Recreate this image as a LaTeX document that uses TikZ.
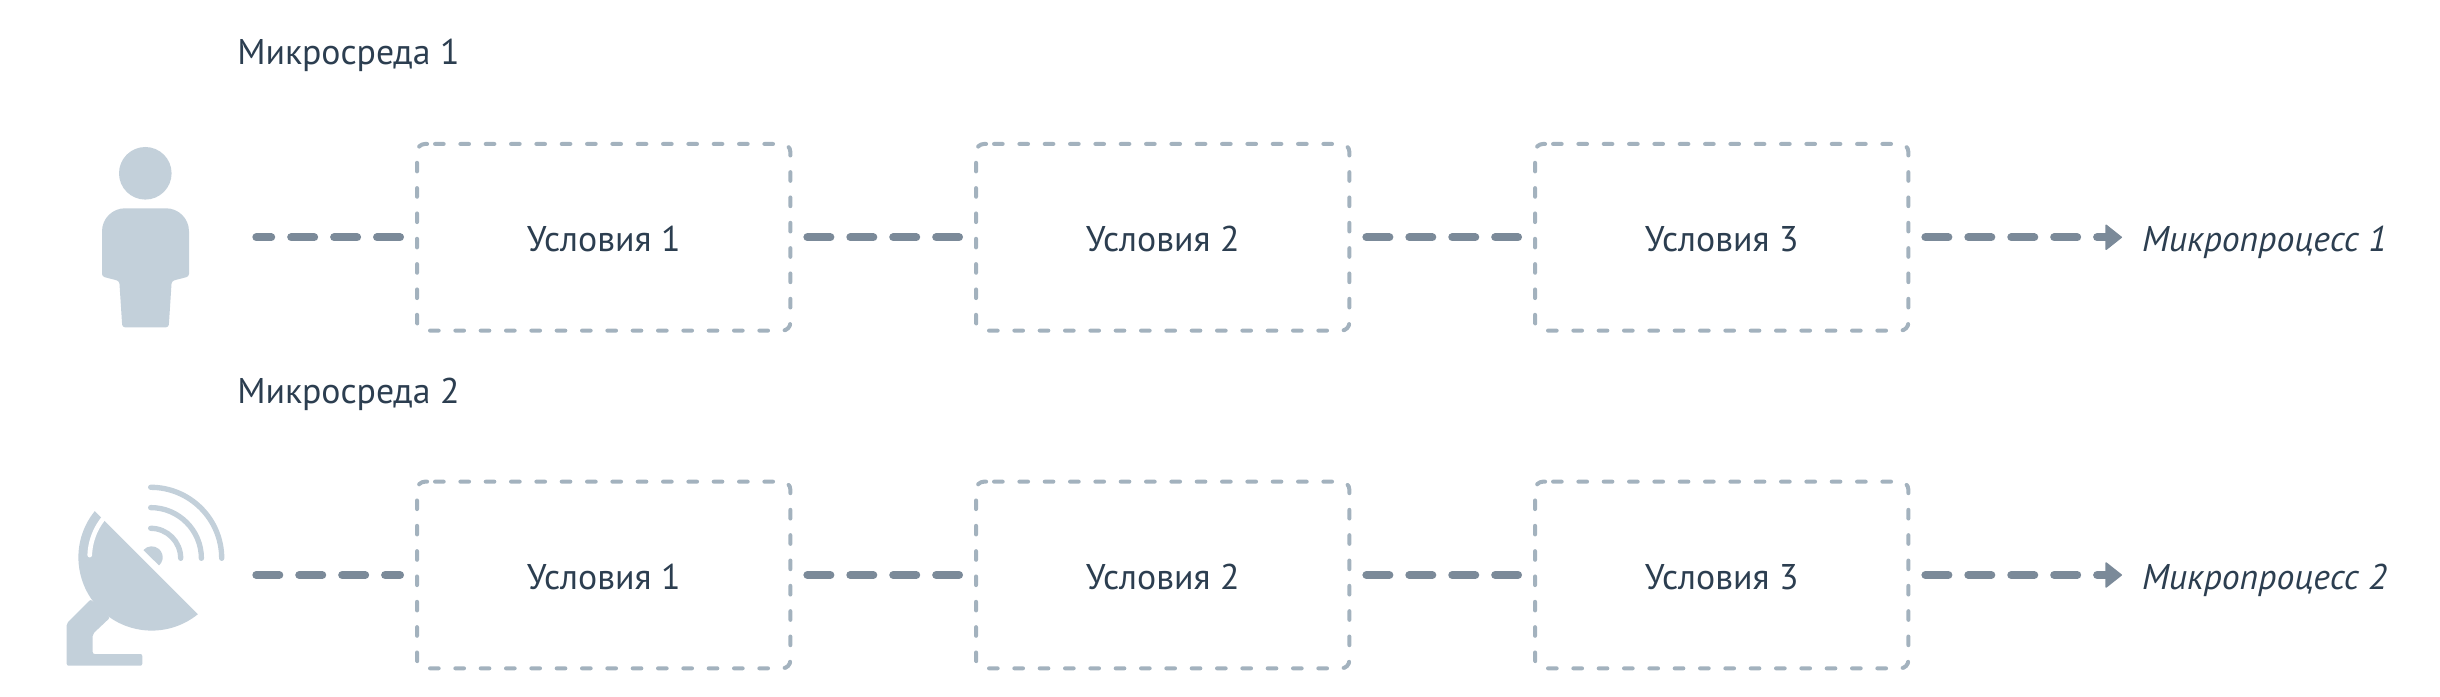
\documentclass[tikz,border=0pt]{standalone}
\usepackage{fontspec}
\setmainfont{PT Sans}
\usetikzlibrary{arrows.meta}
\definecolor{ink}{HTML}{2C3E50}
\definecolor{conn}{HTML}{7B8A99}
\definecolor{icon}{HTML}{C3D0DA}
\definecolor{frame}{HTML}{A3B2BE}
\tikzset{
  x=0.75pt,y=0.75pt,
  condbox/.style={outer sep=0pt,minimum width=280pt,minimum height=140pt,inner sep=0pt,text=ink,text height=21pt,text depth=0pt,font=\fontsize{26.8}{30}\selectfont},
  frameline/.style={draw=frame,line width=3pt,rounded corners=6pt,dash pattern=on 6.5pt off 12.5pt,line cap=round},
  link/.style={draw=conn,line width=6pt,line cap=round,dash pattern=on 17.25pt off 14.95pt},
  arrowlink/.style={link,-{Triangle[length=12.75pt,width=20pt,round,line width=1pt]}},
  envlabel/.style={anchor=base west,inner sep=0pt,text=ink,font=\fontsize{26.8}{30}\selectfont},
  proclabel/.style={anchor=west,inner sep=0pt,outer sep=0pt,text=ink,text height=21pt,text depth=0pt,font=\fontsize{26.8}{30}\selectfont\itshape},
  iconarc/.style={draw=icon,line width=4pt,line cap=round},
}
\begin{document}
\begin{tikzpicture}
\useasboundingbox (0,0) rectangle (2440,696);
% person
\fill[icon] (145.3,522.7) circle (26.3);
\fill[icon] (102,422) -- (102,464.7) arc[start angle=180,end angle=90,radius=23] -- (166,487.7) arc[start angle=90,end angle=0,radius=23] -- (189,422) [rounded corners=2pt] -- (189,419.5) -- (171.7,415) -- (168.7,368.7) -- (122.3,368.7) -- (119.3,415) -- (102,419.5) [sharp corners] -- cycle;
% dish
\fill[icon,rounded corners=1.5pt] (90.7,96.7) -- (66.7,72.7) -- (66.7,30.3) -- (142.3,30.3) -- (142.3,42) -- (92.7,42) -- (92.7,62) -- (110,78.3) -- cycle;
\fill[icon] (151.7,138.7) ++(141:73.3) arc[start angle=141,end angle=309,radius=73.3] -- cycle;
\draw[white,line width=3.5pt,line cap=round] (151.7,138.7) ++(178:62) arc[start angle=178,end angle=128,radius=62];
\fill[icon] (151.7,138.7) ++(139:11) arc[start angle=139,end angle=-48,radius=11] -- cycle;
\draw[iconarc] (150.7,167.7) arc[start angle=90,end angle=0,radius=30];
\draw[iconarc] (150.7,188.4) arc[start angle=90,end angle=0,radius=50.7];
\draw[iconarc] (150.7,208.7) arc[start angle=90,end angle=0,radius=71];
% row 1
\node[envlabel] (env1) at (237,631.5) {Микросреда 1};
\coordinate (src1) at (256.3,458.7);
\node[condbox] (a1) at (603.7,458.7) {Условия 1};
\node[condbox] (a2) at (1162.7,458.7) {Условия 2};
\node[condbox] (a3) at (1721.7,458.7) {Условия 3};
\node[proclabel] (p1) at (2142,458.7) {Микропроцесс 1};
% row 2
\node[envlabel] (env2) at (237,292.5) {Микросреда 2};
\coordinate (src2) at (256.3,121);
\node[condbox] (b1) at (603.7,121) {Условия 1};
\node[condbox] (b2) at (1162.7,121) {Условия 2};
\node[condbox] (b3) at (1721.7,121) {Условия 3};
\node[proclabel] (p2) at (2142,121) {Микропроцесс 2};
% frames, one clockwise dashed path each
\foreach \n in {a1,a2,a3,b1,b2,b3}
  \draw[frameline] ([xshift=13.5pt]\n.north west) -- (\n.north east) -- (\n.south east) -- (\n.south west) -- (\n.north west) -- ([xshift=13.5pt]\n.north west);
% connectors
\draw[link] ([xshift=-12.75pt]a1.west) -- (src1);
\draw[link] ([xshift=12.75pt]a1.east) -- ([xshift=-12.75pt]a2.west);
\draw[link] ([xshift=12.75pt]a2.east) -- ([xshift=-12.75pt]a3.west);
\draw[arrowlink] ([xshift=12.75pt]a3.east) -- ([xshift=-15pt]p1.west);
\draw[link] (src2) -- ([xshift=-12.75pt]b1.west);
\draw[link] ([xshift=12.75pt]b1.east) -- ([xshift=-12.75pt]b2.west);
\draw[link] ([xshift=12.75pt]b2.east) -- ([xshift=-12.75pt]b3.west);
\draw[arrowlink] ([xshift=12.75pt]b3.east) -- ([xshift=-15pt]p2.west);
\end{tikzpicture}
\end{document}
